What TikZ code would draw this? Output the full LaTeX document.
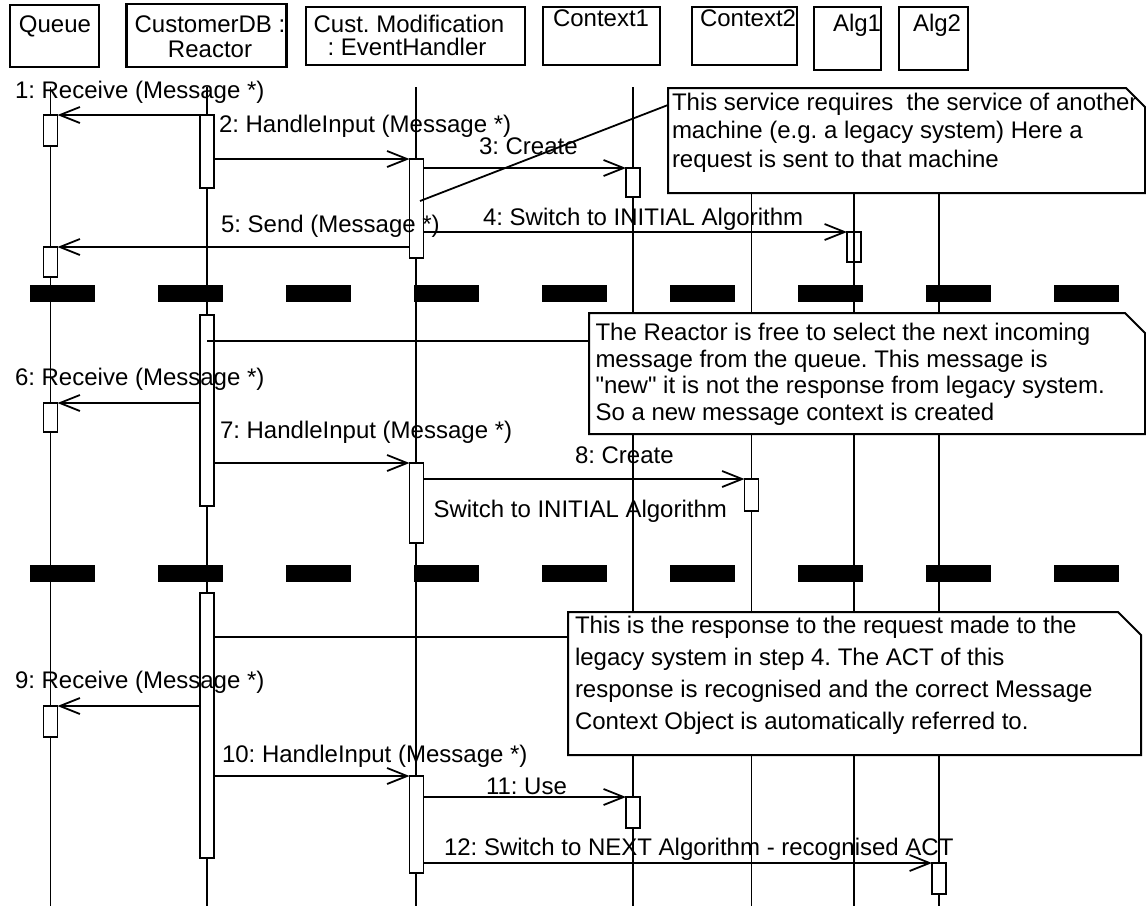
\documentclass[tikz,border=0pt]{standalone}
\usepackage{fontspec}
\setmainfont{Liberation Sans}
\usetikzlibrary{arrows.meta}
\frenchspacing
\begin{document}
\begin{tikzpicture}[x=1pt,y=-1pt,
  every node/.style={inner sep=0pt, outer sep=0pt},
  txt/.style={font=\fontsize{24}{28}\selectfont, anchor=base west},
  ctxt/.style={font=\fontsize{24}{28}\selectfont, anchor=base},
  headbox/.style={draw, line width=2.4pt},
  lifeline/.style={line width=1.6pt},
  act/.style={draw, fill=white, line width=1.8pt, minimum width=14pt},
  actopen/.style={draw, line width=1.8pt, minimum width=14pt},
  msg/.style={line width=1.8pt, -{Straight Barb[length=20pt,width=16pt]}},
  notelink/.style={line width=1.8pt},
  notebox/.style={draw, fill=white, line width=2pt, line join=miter},
  sep/.style={fill=black}]

\fill[white] (0,0) rectangle (1146,911);
\useasboundingbox (0,0) rectangle (1146,911);

% object headers
\node[headbox, minimum width=89pt,  minimum height=62pt] (hq)  at (54.5,36) {};
\node[headbox, minimum width=160pt, minimum height=63pt] (hd)  at (206.5,35.5) {};
\node[headbox, minimum width=219pt, minimum height=58pt] (hm)  at (415.5,36) {};
\node[headbox, minimum width=117pt, minimum height=58pt] (hc1) at (601.5,36) {};
\node[headbox, minimum width=105pt, minimum height=58pt] (hc2) at (744.5,36) {};
\node[headbox, minimum width=67pt,  minimum height=63pt] (ha1) at (847.5,38.5) {};
\node[headbox, minimum width=69pt,  minimum height=63pt] (ha2) at (933.5,38.5) {};

\node[ctxt] (tq)   at (55,32)  {Queue};
\node[ctxt] (td1)  at (210,32) {CustomerDB :};
\node[ctxt] (td2)  at (210,57) {Reactor};
\node[ctxt] (tm1)  at (409,32) {Cust. Modification};
\node[ctxt] (tm2)  at (407,55) {: EventHandler};
\node[txt]  (tc1)  at (553,26) {Context1};
\node[txt]  (tc2)  at (700,26) {Context2};
\node[txt]  (ta1)  at (833,31) {Alg1};
\node[txt]  (ta2)  at (913,31) {Alg2};

% lifelines
\foreach \n/\x in {q/50.5, d/207, m/416, ca/633, cb/751.5, aa/854, ab/939} {
  \coordinate (\n top) at (\x,87);
  \coordinate (\n bot) at (\x,906);
  \draw[lifeline] (\n top) -- (\n bot);
}

% activation bars
\node[act, minimum height=31pt]  (q1)  at (50.5,130.5) {};
\node[act, minimum height=30pt]  (q2)  at (50.5,262) {};
\node[act, minimum height=29pt]  (q3)  at (50.5,417.5) {};
\node[act, minimum height=31pt]  (q4)  at (50.5,721.5) {};
\node[act, minimum height=73pt]  (d1)  at (207,151.5) {};
\node[act, minimum height=191pt] (d2)  at (207,410.5) {};
\node[act, minimum height=265pt] (d3)  at (207,725.5) {};
\node[act, minimum height=99pt]  (m1)  at (416.5,208.5) {};
\node[act, minimum height=80pt]  (m2)  at (416.5,503) {};
\node[act, minimum height=97pt]  (m3)  at (416.5,824.5) {};
\node[act, minimum height=29pt]  (c1a) at (633,182.5) {};
\node[act, minimum height=31pt]  (c1b) at (633,812.5) {};
\node[act, minimum height=32pt]  (c2)  at (751.5,495) {};
\node[actopen, minimum height=30pt] (a1) at (854,247) {};
\node[act, minimum height=31pt]  (a2)  at (939,878.5) {};

% note anchors
\coordinate (n1) at (668,105);
\coordinate (n2) at (589,341);
\coordinate (n3) at (568,637);
\coordinate (m1n) at (420,201);

% links from bars to notes
\draw[notelink] (m1n) -- (n1);
\draw[notelink] (d2 |- n2) -- (n2);
\draw[notelink] (d3.east |- n3) -- (n3);

% messages
\draw[msg] (d1.west |- q1.north) -- (q1.north east);
\draw[msg] (d1.east |- m1.north) -- (m1.north west);
\draw[msg] (m1.east |- c1a.north) -- (c1a.north west);
\draw[msg] (m1.east |- a1.north) -- (a1.north west);
\draw[msg] (m1.west |- q2.north) -- (q2.north east);
\draw[msg] (d2.west |- q3.north) -- (q3.north east);
\draw[msg] (d2.east |- m2.north) -- (m2.north west);
\draw[msg] (m2.east |- c2.north) -- (c2.north west);
\draw[msg] (d3.west |- q4.north) -- (q4.north east);
\draw[msg] (d3.east |- m3.north) -- (m3.north west);
\draw[msg] (m3.east |- c1b.north) -- (c1b.north west);
\draw[msg] (m3.east |- a2.north) -- (a2.north west);

% message labels
\node[txt] (l1)  at (15,98)   {1: Receive (Message *)};
\node[txt] (l2)  at (219,132) {2: HandleInput (Message *)};
\node[txt] (l3)  at (479,154) {3: Create};
\node[txt] (l4)  at (483,225) {4: Switch to INITIAL Algorithm};
\node[txt] (l5)  at (221,232) {5: Send (Message *)};
\node[txt] (l6)  at (15,385)  {6: Receive (Message *)};
\node[txt] (l7)  at (220,438) {7: HandleInput (Message *)};
\node[txt] (l8)  at (575,463) {8: Create};
\node[txt] (l8b) at (433.5,517) {Switch to INITIAL Algorithm};
\node[txt] (l9)  at (15,688)  {9: Receive (Message *)};
\node[txt] (l10) at (222,762) {10: HandleInput (Message *)};
\node[txt] (l11) at (486,794) {11: Use};
\node[txt] (l12) at (444,855) {12: Switch to NEXT Algorithm - recognised ACT};

% notes
\draw[notebox] (668,88) -- (1126,88) -- (1145,107) -- (1145,193) -- (668,193) -- cycle;
\node[txt] (n1a) at (672,110)   {This service requires~ the service of another};
\node[txt] (n1b) at (672,138.5) {machine (e.g. a legacy system) Here a};
\node[txt] (n1c) at (672,167)   {request is sent to that machine};

\draw[notebox] (589,313) -- (1125,313) -- (1145,333) -- (1145,434) -- (589,434) -- cycle;
\node[txt] (n2a) at (595.5,340)   {The Reactor is free to select the next incoming};
\node[txt] (n2b) at (595.5,367)   {message from the queue. This message is};
\node[txt] (n2c) at (595.5,393.5) {\textquotedbl new\textquotedbl\ it is not the response from legacy system.};
\node[txt] (n2d) at (595.5,420)   {So a new message context is created};

\draw[notebox] (568,612) -- (1118,612) -- (1141,635) -- (1141,755) -- (568,755) -- cycle;
\node[txt] (n3a) at (575,633) {This is the response to the request made to the};
\node[txt] (n3b) at (575,665) {legacy system in step 4. The ACT of this};
\node[txt] (n3c) at (575,697) {response is recognised and the correct Message};
\node[txt] (n3d) at (575,729) {Context Object is automatically referred to.};

% phase separators
\foreach \k in {0,...,8} {
  \fill[sep] (30+128*\k,285) rectangle ++(65,17);
  \fill[sep] (30+128*\k,565) rectangle ++(65,17);
}
\end{tikzpicture}
\end{document}
